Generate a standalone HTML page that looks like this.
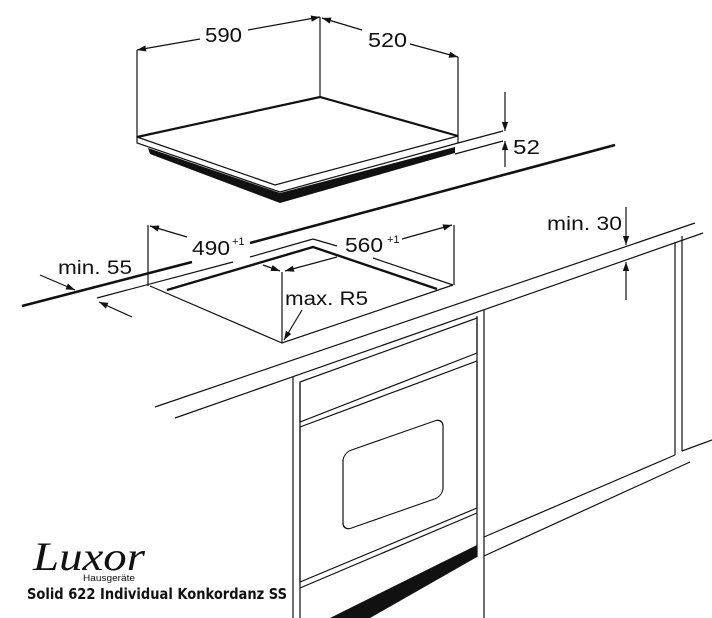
<!DOCTYPE html>
<html><head><meta charset="utf-8"><style>
html,body{margin:0;padding:0;background:#fff;}
svg{display:block;}
text{font-family:"Liberation Sans",Arial,sans-serif;fill:#111;}
</style></head><body>
<svg width="712" height="618" viewBox="0 0 712 618" xmlns="http://www.w3.org/2000/svg">
<defs>
<marker id="a" viewBox="0 0 10 10" refX="10" refY="5" markerWidth="9" markerHeight="9" markerUnits="userSpaceOnUse" orient="auto"><path d="M0,1.5 L10,5 L0,8.5 Z" fill="#111"/></marker>
</defs>
<g stroke="#111" fill="none" stroke-width="1.2">
<!-- hob -->
<polygon points="148,148 280,193 455,147 455,153 280,203 150,154" fill="#111" stroke="none"/>
<polygon points="137,137 320,97 458,136 458,143 280,192 137,143" fill="#fff" stroke-width="1.2"/>
<polyline points="137,137 320,97 458,136" stroke-width="2.2"/>
<polyline points="137,137 275,185 458,136" stroke-width="1.2"/>
<line x1="137" y1="50" x2="137" y2="137"/>
<line x1="320" y1="17" x2="320" y2="97"/>
<line x1="458" y1="57" x2="458" y2="136"/>
<line x1="200" y1="39" x2="137" y2="50" marker-end="url(#a)"/>
<line x1="248" y1="30" x2="320" y2="17" marker-end="url(#a)"/>
<line x1="362" y1="30" x2="322" y2="18" marker-end="url(#a)"/>
<line x1="410" y1="44" x2="458" y2="57" marker-end="url(#a)"/>
<!-- 52 -->
<line x1="458" y1="143" x2="503" y2="131"/>
<line x1="455" y1="154" x2="503" y2="141"/>
<line x1="505" y1="92" x2="505" y2="131" marker-end="url(#a)"/>
<line x1="505" y1="167" x2="505" y2="141" marker-end="url(#a)"/>
<!-- countertop thick back line -->
<line x1="22" y1="306" x2="192" y2="262" stroke-width="2.6"/>
<line x1="250" y1="243" x2="615" y2="145" stroke-width="2.6"/>
<!-- thin line 55 -->
<line x1="97" y1="298" x2="233" y2="262"/>
<line x1="250" y1="257" x2="313" y2="239"/>
<line x1="313" y1="239" x2="337" y2="246"/>
<line x1="373" y1="258" x2="453" y2="285"/>
<!-- cutout -->
<polyline points="167,290 313,247 437,289" stroke-width="2.4"/>
<polyline points="150,286 282,343 453,285"/>
<line x1="148" y1="225" x2="148" y2="286"/>
<line x1="454" y1="225" x2="454" y2="285"/>
<line x1="187" y1="237" x2="150" y2="226" marker-end="url(#a)"/>
<line x1="402" y1="239" x2="452" y2="225" marker-end="url(#a)"/>
<line x1="282" y1="272" x2="282" y2="343"/>
<line x1="263" y1="265" x2="280" y2="271" marker-end="url(#a)"/>
<line x1="337" y1="257" x2="285" y2="271" marker-end="url(#a)"/>
<line x1="302" y1="310" x2="284" y2="340" marker-end="url(#a)"/>
<!-- min 55 arrows -->
<line x1="40" y1="275" x2="75" y2="290" marker-end="url(#a)"/>
<line x1="132" y1="317" x2="99" y2="302" marker-end="url(#a)"/>
<!-- countertop front -->
<line x1="155" y1="407" x2="695" y2="223"/>
<line x1="175" y1="418" x2="703" y2="233"/>
<!-- min 30 -->
<line x1="626" y1="207" x2="626" y2="245" marker-end="url(#a)"/>
<line x1="626" y1="300" x2="626" y2="262" marker-end="url(#a)"/>
<!-- oven cabinet -->
<line x1="293" y1="377" x2="293" y2="618"/>
<line x1="300" y1="383" x2="300" y2="618"/>
<line x1="484" y1="310" x2="484" y2="618"/>
<line x1="477" y1="316" x2="477" y2="557"/>
<polygon points="300,382 477,318 477,353 300,422"/>
<polygon points="300,427 477,361 477,508 300,582"/>
<line x1="300" y1="588" x2="477" y2="513"/>
<rect x="0" y="0" width="100" height="78" rx="8" transform="matrix(1,-0.35,0,1,343,453)"/>
<polygon points="477,545 477,557 370,618 330,618" fill="#111" stroke="none"/>
<!-- right cabinet -->
<line x1="484" y1="537" x2="675" y2="455"/>
<line x1="675" y1="242" x2="675" y2="455"/>
<line x1="682" y1="236" x2="682" y2="451"/>
<line x1="682" y1="451" x2="712" y2="440"/>
<line x1="484" y1="556" x2="690" y2="462"/>
</g>
<text x="205" y="42" font-size="20" textLength="37" lengthAdjust="spacingAndGlyphs">590</text>
<text x="368" y="47" font-size="20" textLength="39" lengthAdjust="spacingAndGlyphs">520</text>
<text x="513" y="154" font-size="20" textLength="27" lengthAdjust="spacingAndGlyphs">52</text>
<text x="192" y="255" font-size="20" textLength="38" lengthAdjust="spacingAndGlyphs">490</text>
<text x="232" y="245" font-size="11">+1</text>
<text x="345" y="252" font-size="20" textLength="38" lengthAdjust="spacingAndGlyphs">560</text>
<text x="387" y="243" font-size="11">+1</text>
<text x="58" y="274" font-size="19" textLength="74" lengthAdjust="spacingAndGlyphs">min. 55</text>
<text x="285" y="305" font-size="19" textLength="83" lengthAdjust="spacingAndGlyphs">max. R5</text>
<text x="547" y="230" font-size="19" textLength="75" lengthAdjust="spacingAndGlyphs">min. 30</text>
<text x="33" y="570" font-size="40" font-style="italic" style="font-family:'Liberation Serif',serif" textLength="112" lengthAdjust="spacingAndGlyphs">Luxor</text>
<text x="83" y="581" font-size="9" textLength="52" lengthAdjust="spacingAndGlyphs">Hausgeräte</text>
<text x="27" y="599" font-size="15" font-weight="bold" style="font-family:'DejaVu Sans',sans-serif" textLength="260" lengthAdjust="spacingAndGlyphs">Solid 622 Individual Konkordanz SS</text>
</svg>
</body></html>
